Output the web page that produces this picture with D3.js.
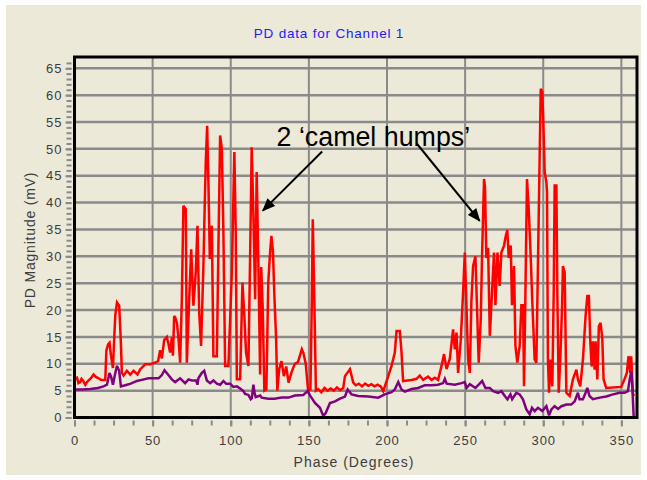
<!DOCTYPE html>
<html>
<head>
<meta charset="utf-8">
<script src="https://cdn.jsdelivr.net/npm/d3@7"></script>
<style>
  body { margin: 0; background: #ffffff; }
  text { font-family: "Liberation Sans", Arial, sans-serif; }
</style>
</head>
<body>
<div id="chart"></div>
<script>
// values: [phase (deg), magnitude (mV)]
const upperTrace = [
  [0,7.2],[1.6,7.4],[2.5,6.4],[3.7,6.6],[4.5,7.2],[5.4,6.9],[6.9,6.1],[8,6.6],[9,6.9],[10.5,7.3],
  [12.2,8],[13.5,7.6],[15.4,7.3],[17,7],[19.7,7],[20.4,12.5],[21.5,13.6],[22.4,13.9],[23.3,11.6],[24.6,9.2],
  [25.3,14],[26.1,19],[27.2,21.4],[28.6,20.8],[29.7,13.8],[30.3,8.3],[31.4,7.8],[33.5,8.7],[35.7,8],[37.8,8.7],
  [40.3,8],[42.1,9],[45.3,9.9],[48.4,9.9],[51.6,10.2],[53.5,10.5],[54.8,12.5],[55.9,11],[57.4,14.4],[59.1,15],
  [60.2,13.6],[61.2,12.1],[62.3,14.9],[63,11.5],[63.8,18.9],[64.6,18.5],[65.5,17.7],[66.6,14.6],[67.6,10.2],[68.7,22],
  [69.7,39.4],[71.2,38.8],[71.9,10.2],[73.4,22],[74.7,31.3],[76.1,20.8],[77.6,27],[78.7,35.7],[79.8,19.5],[81,13.3],
  [82.5,28.2],[83.2,37.6],[84,47.5],[84.9,54.3],[85.7,43.8],[86.6,29.5],[87.9,35.7],[88.9,11.4],[91.1,11.4],[92.1,31.3],
  [93.2,52.5],[94.3,50],[95.3,34.5],[96.4,9.6],[98.5,9.6],[100.7,27],[102.3,49.4],[103.2,34.5],[103.9,7.1],[106,7.1],
  [107.5,25.1],[108.7,18.9],[109.8,12.1],[111.3,9.6],[112.4,30.1],[113.4,50.3],[114.5,37.6],[115.6,22],[116.6,45.7],[117.7,28.2],
  [118.8,8],[119.5,28],[120.5,20],[121.5,5],[122.8,5.2],[124,25],[125,30],[126,33.8],[127,31],[128,22],
  [129,15],[129.8,5],[131,9],[132.5,10.5],[134,7.7],[135.5,9.5],[137,6.5],[139,8.5],[141,10],[143,10.3],
  [145.5,12.7],[146.5,12],[148,10],[149.5,5],[151,5.2],[151.8,20],[152.5,36.9],[153.3,25],[154.5,5],[156,5.3],
  [158,4.7],[160,5.5],[162,5],[164,5.4],[166,5],[168,5.6],[170,5.1],[172,5.5],[173.1,7.7],[176.3,9],
  [178.4,6.5],[180,6],[182,6.3],[184,5.8],[186,6.3],[188,5.9],[190,6.2],[192,5.8],[194,6.1],[196,5.8],
  [197.6,4.9],[200.8,7.7],[202.9,9.6],[205,12.1],[206.1,16.1],[208.2,16.1],[209.3,12.1],[210.3,6.8],[213,6.9],[215.7,7],
  [218.9,7.2],[221,7.8],[223.1,7],[226.3,7.6],[228.5,7],[230.6,7.4],[232.7,7],[234.9,9.6],[236.5,11.8],[238.1,9],
  [240.2,10.9],[242.3,16.4],[243.4,12.7],[244.5,15.8],[245.5,8.3],[247.2,14.4],[248.7,23.3],[249.8,30.7],[250.9,20.3],[251.9,10.8],
  [253,8.3],[254,21.5],[255.1,28.2],[256.6,30],[257.3,23.3],[258.7,10.2],[260,18.3],[260.8,29.7],[262.1,44.4],[262.7,43],
  [263.6,29.7],[264.7,31.6],[265.8,15.2],[267.2,23.3],[268.5,30.7],[269.4,20.9],[270.7,30.7],[272.1,24.5],[273.2,30.7],[274.9,32],
  [276,33.8],[277,34.9],[277.9,29.7],[279.2,32],[280,20.9],[281.3,28.2],[282.2,13.3],[283.4,10.2],[284.9,13.3],[286,20.9],
  [287.1,20.9],[287.7,5.8],[288.6,23.3],[289.6,44.4],[290.7,38.8],[292,29.7],[293,21.5],[294.5,10.8],[295.6,10.2],[296.6,28.2],
  [297.5,45],[298.4,61.2],[299.4,60.6],[300.3,52.5],[300.9,45.7],[302,43.8],[302.4,42],[303,10.8],[303.7,4.6],[304.7,10.8],
  [305.8,5.8],[306.7,23.3],[307.3,43.2],[308.4,43.2],[309,23.3],[309.9,4.6],[310.9,10.8],[312,20.3],[312.6,28.2],[313.7,27],
  [314.8,4.6],[316.9,4],[319,7.1],[321.2,8.9],[322.2,7.1],[323.7,5.8],[325.4,10.8],[327.1,18.9],[328.2,22.6],[329.2,22.6],
  [330.1,14.2],[331,9.5],[331.8,14.2],[332.9,8.9],[333.5,14.2],[334.6,7.1],[335.6,17],[336.7,17.6],[337.8,14.6],[338.6,7.1],
  [340.3,5.5],[349.9,5.7],[352,7.1],[353.5,8.3],[354.6,11.4],[355.7,8.3],[356.3,11.4],[357.3,4.6],[358,4]
];

const lowerTrace = [
  [0,5.2],[5,5.2],[10.1,5.3],[15,5.5],[18.6,5.8],[20.8,6.1],[22.4,8.3],[23.5,7.5],[24.6,6.1],[26.1,8.3],
  [27.2,9.6],[28.6,8.7],[29.7,5.8],[33.6,6.1],[36,6.3],[39.9,6.8],[43,7],[47.4,7.3],[53.8,7.3],[55.9,7.9],
  [57.6,8.8],[60.1,7.9],[62.3,7.1],[64.4,6.6],[67.6,7.3],[70.8,6.4],[73,7.1],[75.1,6.9],[77.8,6.9],[78.7,6.1],
  [79.3,7.3],[81.5,8.3],[83,8.7],[84.7,6.9],[86.8,6.4],[88.9,6.9],[91.1,6.3],[93.2,6.1],[95.3,6.8],[97,6.3],
  [99.6,6.3],[101.7,5.7],[103.9,5.8],[106,5.4],[108.1,4.9],[109.2,4.4],[111.3,4.2],[112.8,3.4],[113.5,3.6],[114.5,6.1],
  [115.3,4.5],[116,3.8],[118.8,4.1],[119.8,3.7],[124,3.5],[128,3.5],[132.6,3.7],[137,3.7],[141.1,4.1],[146.4,4.2],
  [149.2,4.9],[150.7,4.1],[153.9,2.7],[157.1,1.8],[159.2,0.3],[160.7,0.8],[163.5,2.7],[166.7,3],[169.9,3.5],[173.1,3.9],
  [174.8,5.2],[177.3,4.3],[181.6,4],[188,3.9],[194.4,3.7],[198.6,4.3],[202.9,4.7],[205,5.2],[207.2,6.6],[209.3,5.2],
  [211.5,4.8],[215.7,5.3],[219.9,5.5],[224.2,6],[228.5,6],[232.7,6.1],[235.9,6.4],[237,7.2],[238.2,6.3],[243.4,6.1],
  [247.7,6.4],[249.8,6.6],[250.9,5.5],[253,6.2],[256.6,5.5],[259,6.2],[260.9,6.8],[263,5.5],[265.8,5.5],[267.9,4.9],
  [271.1,4.6],[273.2,4.9],[275.4,4],[277.1,3.4],[279,4.3],[280.1,3.4],[282.8,4.6],[284.9,4.3],[287,3.4],[289.2,1.5],
  [291.3,0.6],[292.8,1.8],[294.5,1.2],[296.6,1.8],[297.7,1.6],[299.4,1.2],[302,2.1],[303.7,0.4],[305.2,1.5],[307.3,2.1],
  [309.5,1.6],[311.6,2.1],[314.8,2.4],[317.9,2.4],[320.1,3],[322.2,4.6],[323.2,3.4],[325.4,3.4],[327.1,4.6],[328.2,5.5],
  [329.6,4],[331.8,3.4],[336.1,3.7],[340.3,3.9],[344.6,4.3],[348.9,4.6],[352,4.6],[354.2,4.9],[355.3,7.1],[356.4,8.6],
  [357,5.8],[357.9,0]
];

const phaseTicks = [0, 50, 100, 150, 200, 250, 300, 350];
const magTicks = [0, 5, 10, 15, 20, 25, 30, 35, 40, 45, 50, 55, 60, 65];

// annotation, in data units: label anchor and two arrows [from, to]
const noteText = "2 \u2018camel humps\u2019";
const noteAt = [129.3, 50.6];
const noteArrows = [
  [[158.5, 49.5], [120.5, 38.5]],
  [[219, 51], [259.3, 36.6]]
];

const width = 647, height = 480;
const plotLeft = 74.5, plotRight = 637, plotTop = 57, plotBottom = 417.5;

const x = d3.scaleLinear().domain([0, 360]).range([plotLeft, plotRight]);
const y = d3.scaleLinear().domain([0, 67.1]).range([plotBottom, plotTop]);

const svg = d3.select("#chart").append("svg")
    .attr("width", width)
    .attr("height", height);

// panel
svg.append("rect")
    .attr("x", 6).attr("y", 5)
    .attr("width", width - 12).attr("height", height - 10)
    .attr("fill", "#ece9d8");

svg.append("defs").append("marker")
    .attr("id", "arrow")
    .attr("viewBox", "0 -5 12 10")
    .attr("refX", 11)
    .attr("refY", 0)
    .attr("markerUnits", "userSpaceOnUse")
    .attr("markerWidth", 14)
    .attr("markerHeight", 11)
    .attr("orient", "auto")
    .append("path")
    .attr("d", "M0,-5L12,0L0,5Z")
    .attr("fill", "#000");

// grid
svg.append("g")
    .selectAll("line")
    .data(magTicks.slice(1))
    .enter().append("line")
    .attr("x1", plotLeft).attr("x2", plotRight)
    .attr("y1", d => y(d)).attr("y2", d => y(d))
    .attr("stroke", "#8a8a8a")
    .attr("stroke-width", 2.5);

svg.append("g")
    .selectAll("line")
    .data(phaseTicks.slice(1))
    .enter().append("line")
    .attr("x1", d => x(d)).attr("x2", d => x(d))
    .attr("y1", plotTop).attr("y2", plotBottom)
    .attr("stroke", "#8a8a8a")
    .attr("stroke-width", 2);

// axes
const yMinor = svg.append("g")
    .attr("transform", "translate(" + (plotLeft - 3) + ",0)")
    .call(d3.axisLeft(y).tickValues(d3.range(0, 67, 1)).tickSize(5).tickFormat(""));
const yAxis = svg.append("g")
    .attr("transform", "translate(" + (plotLeft - 3) + ",0)")
    .call(d3.axisLeft(y).tickValues(magTicks).tickSize(6).tickPadding(3));

const xMinor = svg.append("g")
    .attr("transform", "translate(0," + (plotBottom + 3) + ")")
    .call(d3.axisBottom(x).tickValues(d3.range(0, 360, 12.5)).tickSize(5).tickFormat(""));
const xAxis = svg.append("g")
    .attr("transform", "translate(0," + (plotBottom + 3) + ")")
    .call(d3.axisBottom(x).tickValues(phaseTicks).tickSize(6).tickPadding(9));

[yMinor, yAxis, xMinor, xAxis].forEach(function(g){
    g.select(".domain").remove();
    g.selectAll(".tick line").attr("stroke", "#8a8a8a").attr("stroke-width", 2);
    g.selectAll(".tick text")
        .attr("fill", "#3c3c3c")
        .style("font-size", "13px")
        .style("letter-spacing", "1px")
        .style("font-family", "'Liberation Sans', Arial, sans-serif");
});

// traces
const line = d3.line()
    .x(d => x(d[0]))
    .y(d => y(d[1]));

svg.append("path")
    .datum(upperTrace)
    .attr("d", line)
    .attr("fill", "none")
    .attr("stroke", "#ff0000")
    .attr("stroke-width", 2.5)
    .attr("stroke-linejoin", "miter")
    .attr("stroke-miterlimit", 3);

svg.append("path")
    .datum(lowerTrace)
    .attr("d", line)
    .attr("fill", "none")
    .attr("stroke", "#800080")
    .attr("stroke-width", 2.5)
    .attr("stroke-linejoin", "miter")
    .attr("stroke-miterlimit", 3);

// frame
svg.append("rect")
    .attr("x", plotLeft).attr("y", plotTop)
    .attr("width", plotRight - plotLeft).attr("height", plotBottom - plotTop)
    .attr("fill", "none")
    .attr("stroke", "#000")
    .attr("stroke-width", 3);

// annotation
svg.append("g")
    .selectAll("line")
    .data(noteArrows)
    .enter().append("line")
    .attr("x1", d => x(d[0][0])).attr("y1", d => y(d[0][1]))
    .attr("x2", d => x(d[1][0])).attr("y2", d => y(d[1][1]))
    .attr("stroke", "#000")
    .attr("stroke-width", 2)
    .attr("marker-end", "url(#arrow)");

svg.append("text")
    .attr("x", x(noteAt[0]))
    .attr("y", y(noteAt[1]))
    .attr("fill", "#000")
    .style("font-size", "26.8px")
    .text(noteText);

// titles
svg.append("text")
    .attr("x", 329).attr("y", 38)
    .attr("text-anchor", "middle")
    .attr("fill", "#2020ff")
    .style("font-size", "13.5px")
    .style("letter-spacing", "0.8px")
    .text("PD data for Channel 1");

svg.append("text")
    .attr("x", 354).attr("y", 467)
    .attr("text-anchor", "middle")
    .attr("fill", "#3c3c3c")
    .style("font-size", "14px")
    .style("letter-spacing", "1px")
    .text("Phase (Degrees)");

svg.append("text")
    .attr("transform", "translate(35,240) rotate(-90)")
    .attr("text-anchor", "middle")
    .attr("fill", "#3c3c3c")
    .style("font-size", "14px")
    .style("letter-spacing", "0.8px")
    .text("PD Magnitude (mV)");
</script>
</body>
</html>
